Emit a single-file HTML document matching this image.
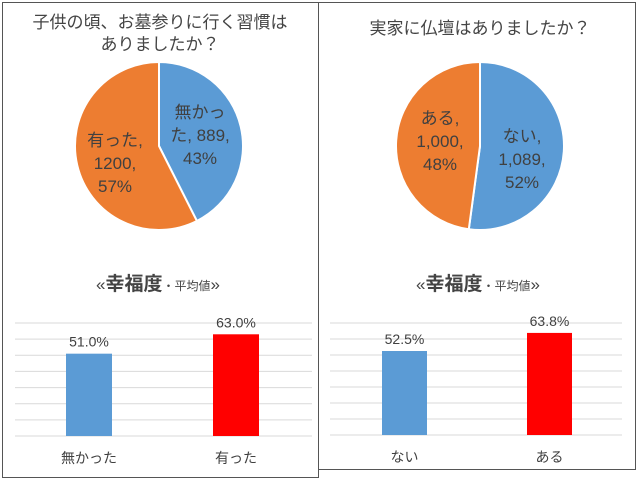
<!DOCTYPE html>
<html><head><meta charset="utf-8">
<style>
body{margin:0;background:#fff;}
svg{display:block;font-family:"Liberation Sans","Noto Sans CJK JP",sans-serif;}
</style></head><body>
<svg id="s" width="640" height="481" viewBox="0 0 640 481">
<rect x="2.5" y="2.5" width="316" height="475" fill="#fff" stroke="#555"/>
<rect x="318.5" y="2.5" width="317" height="467" fill="#fff" stroke="#555"/>
<text x="160" y="28" font-size="17" text-anchor="middle" fill="#444">子供の頃、お墓参りに行く習慣は</text>
<text x="160" y="50" font-size="17" text-anchor="middle" fill="#444">ありましたか？</text>
<text x="480" y="34" font-size="17" text-anchor="middle" fill="#444">実家に仏壇はありましたか？</text>
<text x="158" y="290" font-size="17" text-anchor="middle" fill="#444">«<tspan font-weight="bold" font-size="19">幸福度</tspan><tspan font-size="12">・平均値</tspan>»</text>
<text x="478" y="290" font-size="17" text-anchor="middle" fill="#444">«<tspan font-weight="bold" font-size="19">幸福度</tspan><tspan font-size="12">・平均値</tspan>»</text>
<g id="g"></g>
</svg>
<script>
const pie1Labels=["無かった","有った"];
const pie1Values=[889,1200];
const pie1Pct=["43%","57%"];
const pie2Labels=["ない","ある"];
const pie2Values=[1089,1000];
const pie2Pct=["52%","48%"];
const bar1Cats=["無かった","有った"];
const bar1Values=[51.0,63.0];
const bar2Cats=["ない","ある"];
const bar2Values=[52.5,63.8];
const barMax=70, gridStep=10;

const NS="http://www.w3.org/2000/svg";
const g=document.getElementById('g');
function mk(t,a,txt){const e=document.createElementNS(NS,t);for(const k in a)e.setAttribute(k,a[k]);if(txt!==undefined)e.textContent=txt;g.appendChild(e);return e;}

function pie(cx,cy,r,labels,values,pcts,countFmt,key,labelPos){
  const tot=values.reduce((a,b)=>a+b,0);
  const cols=["#5b9bd5","#ed7d31"];
  let a0=0;
  values.forEach((v,i)=>{
    const a1=a0+v/tot*2*Math.PI;
    const x0=cx+r*Math.sin(a0),y0=cy-r*Math.cos(a0),x1=cx+r*Math.sin(a1),y1=cy-r*Math.cos(a1);
    const large=(a1-a0)>Math.PI?1:0;
    const p=mk('path',{d:`M${cx},${cy}L${x0},${y0}A${r},${r} 0 ${large} 1 ${x1},${y1}Z`,fill:cols[i],stroke:"#fff","stroke-width":2});
    
    
    const lp=labelPos[i];
    const lines=countFmt(labels[i],values[i],pcts[i]);
    lines.forEach((ln,j)=>{
      const t=mk('text',{x:lp[0],y:lp[1]+j*23,'font-size':17,'text-anchor':'middle',fill:'#404040'},ln);
      
      
    });
    a0=a1;
  });
}
pie(159,146,84,pie1Labels,pie1Values,pie1Pct,(l,v,p)=>l==="無かった"?["無かっ","た, "+v+",",p]:[l+",",v+",",p],'left-pie',[[200,118],[115,146]]);
pie(480,146,84,pie2Labels,pie2Values,pie2Pct,(l,v,p)=>[l+",",v.toLocaleString('en-US')+",",p],'right-pie',[[522,142],[440,124]]);

function bars(x0,x1,yTop,yBot,cats,vals,barX,bw,key){
  const y=v=>yBot-(v/barMax)*(yBot-yTop);
  for(let v=0;v<=barMax;v+=gridStep){
    const l=mk('line',{x1:x0,x2:x1,y1:y(v),y2:y(v),stroke:'#d9d9d9','stroke-width':1});
    
    
  }
  const cols=["#5b9bd5","#ff0000"];
  vals.forEach((v,i)=>{
    const r=mk('rect',{x:barX[i],y:y(v),width:bw,height:yBot-y(v),fill:cols[i]});
    
    
    const t=mk('text',{x:barX[i]+bw/2,y:y(v)-7,'font-size':14,'text-anchor':'middle',fill:'#404040'},v.toFixed(1)+'%');
    
    
    const c=mk('text',{x:barX[i]+bw/2,y:yBot+27,'font-size':14,'text-anchor':'middle',fill:'#404040'},cats[i]);
    
    
  });
}
bars(15,312,323,436,bar1Cats,bar1Values,[66,213],46,'left-bar');
bars(330,622,323,435,bar2Cats,bar2Values,[382,527],45,'right-bar');
</script>
</body></html>
